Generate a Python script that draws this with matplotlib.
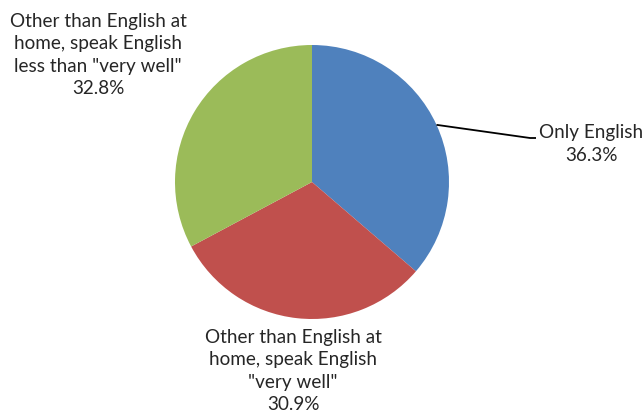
import matplotlib
matplotlib.use("Agg")
import matplotlib.pyplot as plt
import numpy as np

categories = ["Only English",
              "Other than English at\nhome, speak English\n\"very well\"",
              "Other than English at\nhome, speak English\nless than \"very well\""]
values = [36.3, 30.9, 32.8]
colors = ["#4F81BD", "#C0504D", "#9BBB59"]

W, H = 642, 418
fig = plt.figure(figsize=(W / 100, H / 100), dpi=100)
ax = fig.add_axes([0, 0, 1, 1])

cx, cy, r = 312, H - 182, 137
wedges, _ = ax.pie(values, colors=colors, startangle=90, counterclock=False,
                   radius=r, center=(cx, cy), frame=True,
                   wedgeprops=dict(linewidth=0))
ax.set_xlim(0, W)
ax.set_ylim(0, H)
ax.set_aspect("equal")
ax.axis("off")

font = dict(family="Lato", fontsize=13.6, color="#262626", ha="center",
            va="center", linespacing=1.38)

labels = [f"{c}\n{v}%" for c, v in zip(categories, values)]

# Only English: leader line from wedge mid-angle
w = wedges[0]
mid = np.deg2rad((w.theta1 + w.theta2) / 2)
x0, y0 = cx + r * np.cos(mid), cy + r * np.sin(mid)
ax.plot([x0, 530, 536], [y0, H - 138, H - 138], color="black", lw=1.3,
        solid_capstyle="butt")
ax.text(591, H - 144, labels[0], **font)
ax.text(293, H - 371, labels[1], **font)
ax.text(98, H - 55, labels[2], **font)

fig.savefig("out.png", dpi=100)
